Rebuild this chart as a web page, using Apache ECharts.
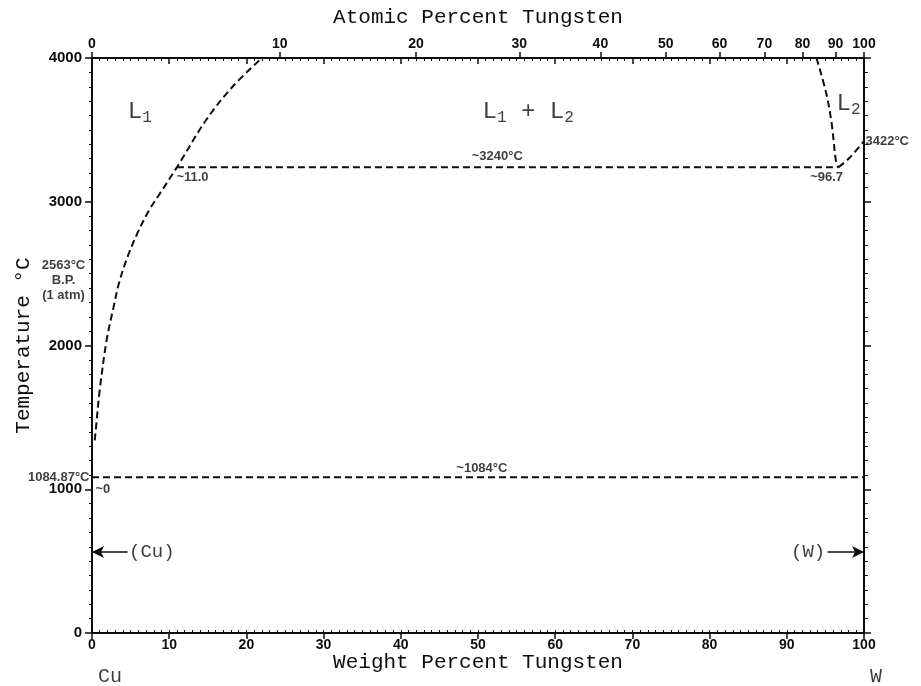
<!DOCTYPE html>
<html>
<head>
<meta charset="utf-8">
<script src="https://cdn.jsdelivr.net/npm/echarts@6/dist/echarts.min.js"></script>
<style>
  html, body { margin: 0; padding: 0; background: #fff; }
  #chart { width: 921px; height: 686px; }
</style>
</head>
<body>
<div id="chart"></div>
<script>
// Cu–W binary phase diagram (weight % tungsten vs temperature)
const MASS_W = 183.84;
const MASS_CU = 63.546;

const atomicPercentTicks = [0, 10, 20, 30, 40, 50, 60, 70, 80, 90, 100];

// Boundary of the Cu-rich liquid L1 (wt.% W, °C)
const l1Boundary = [[0.35, 1340], [0.5, 1420], [1.0, 1690], [1.9, 2038], [2.8, 2268], [3.5, 2435],
  [4.6, 2616], [5.9, 2783], [7.4, 2942], [8.5, 3033], [11.0, 3240], [14.8, 3570], [18.2, 3800], [22.0, 4000]];
// Boundary of the W-rich liquid L2
const l2Boundary = [[93.85, 4000], [95.1, 3756], [95.8, 3548], [96.4, 3270], [96.7, 3240]];
// W liquidus up to the melting point of W
const wLiquidus = [[96.7, 3240], [98.1, 3304], [100, 3422]];
// Monotectic and eutectic-type horizontals
const monotectic = [[11.0, 3240], [96.7, 3240]];
const cuMeltLine = [[0, 1084], [100, 1084]];
// Terminal solid solution arrows
const cuArrow = [[4.6, 563], [0, 563]];
const wArrow = [[95.3, 563], [100, 563]];

// Text annotations (wt.% W, °C)
const notes = [
  { key: 'L1', text: '{a|L}{s|1}', wt: 6.2, temp: 3624 },
  { key: 'L1L2', text: '{a|L}{s|1}{a| + L}{s|2}', wt: 56.5, temp: 3624 },
  { key: 'L2', text: '{a|L}{s|2}', wt: 98.0, temp: 3680 },
  { key: 'mono', text: '~3240°C', wt: 52.5, temp: 3240 },
  { key: 'c11', text: '~11.0', wt: 11.0, temp: 3240 },
  { key: 'c967', text: '~96.7', wt: 96.7, temp: 3240 },
  { key: 'tmW', text: '3422°C', wt: 100, temp: 3422 },
  { key: 'bp', text: '2563°C\nB.P.\n(1 atm)', wt: 0, temp: 2563 },
  { key: 'tmCu', text: '1084.87°C', wt: 0, temp: 1084.87 },
  { key: 'zero', text: '~0', wt: 0, temp: 1000 },
  { key: 'cuMelt', text: '~1084°C', wt: 50.5, temp: 1084 },
  { key: 'cuSS', text: '(Cu)', wt: 4.6, temp: 563 },
  { key: 'wSS', text: '(W)', wt: 95.3, temp: 563 },
  { key: 'cu', text: 'Cu', wt: 0, temp: 0 },
  { key: 'w', text: 'W', wt: 100, temp: 0 }
];

const MONO = '"Liberation Mono", "DejaVu Sans Mono", monospace';
const SANS = '"Liberation Sans", Arial, sans-serif';
const INK = '#0d0d0d';

const richLetters = {
  a: { fontFamily: MONO, fontSize: 24, fontWeight: 'normal', color: INK },
  s: { fontFamily: MONO, fontSize: 16, fontWeight: 'normal', color: INK, padding: [12, 0, 0, 0] }
};

const noteStyle = {
  L1: { position: 'inside', rich: richLetters },
  L1L2: { position: 'inside', rich: richLetters },
  L2: { position: 'inside', rich: richLetters },
  mono: { position: 'top', distance: 4 },
  c11: { position: 'right', offset: [-6, 10] },
  c967: { position: 'left', offset: [10, 10] },
  tmW: { position: 'right', distance: 1 },
  bp: { position: 'left', distance: 4, align: 'center', offset: [-24, 16], lineHeight: 15 },
  tmCu: { position: 'left', distance: 2 },
  zero: { position: 'right', distance: 3 },
  cuMelt: { position: 'top', distance: 2 },
  cuSS: { position: 'right', distance: 1, fontFamily: MONO, fontSize: 19, fontWeight: 'normal' },
  wSS: { position: 'left', distance: 2, fontFamily: MONO, fontSize: 19, fontWeight: 'normal' },
  cu: { position: 'bottom', distance: 33, offset: [18, 0], fontFamily: MONO, fontSize: 20, fontWeight: 'normal' },
  w: { position: 'bottom', distance: 33, offset: [12, 0], fontFamily: MONO, fontSize: 20, fontWeight: 'normal' }
};

const wtFromAt = a => 100 * a * MASS_W / (a * MASS_W + (100 - a) * MASS_CU);
const atomicTickPos = atomicPercentTicks.map(wtFromAt);

const dashed = { color: INK, width: 2, type: [7, 4] };

function curve(data, smooth) {
  return {
    type: 'line', data, smooth: smooth ? 0.35 : false, showSymbol: false, silent: true,
    lineStyle: dashed, clip: false, z: 3
  };
}

function arrow(data) {
  return {
    type: 'line', data: [], silent: true,
    markLine: {
      silent: true, symbol: ['none', 'arrow'], symbolSize: [9, 12],
      lineStyle: { color: INK, width: 1.6, type: 'solid' }, label: { show: false },
      data: [[{ coord: data[0] }, { coord: data[1] }]]
    }
  };
}

const baseAxis = { min: 0, max: 100, gridIndex: 0 };
const tickFont = { fontFamily: SANS, fontSize: 14, color: INK, fontWeight: 'bold' };
const nameFont = { fontFamily: MONO, fontSize: 21, color: INK };

const option = {
  backgroundColor: '#fff',
  animation: false,
  grid: { left: 92, right: 57, top: 58, bottom: 53, outerBoundsMode: 'none' },
  xAxis: [
    { // bottom weight-% axis with labels
      ...baseAxis, type: 'value', position: 'bottom', interval: 10,
      name: 'Weight Percent Tungsten', nameLocation: 'middle', nameGap: 19, nameMoveOverlap: false,
      nameTextStyle: nameFont,
      axisLine: { onZero: false, lineStyle: { color: INK, width: 2 } },
      axisTick: { length: 6, lineStyle: { color: INK, width: 1.5 } },
      axisLabel: { ...tickFont, margin: 5, formatter: v => String(v) },
      splitLine: { show: false }
    },
    { // bottom fine ticks, inside
      ...baseAxis, type: 'value', position: 'bottom', interval: 1,
      axisLine: { show: false, onZero: false },
      axisTick: { inside: true, length: 3, lineStyle: { color: INK, width: 1 } },
      axisLabel: { show: false }, splitLine: { show: false }
    },
    { // top weight-% ticks, inside
      ...baseAxis, type: 'value', position: 'top', interval: 10,
      axisLine: { onZero: false, lineStyle: { color: INK, width: 2 } },
      axisTick: { inside: true, length: 6, lineStyle: { color: INK, width: 1.5 } },
      minorTick: { show: true, splitNumber: 10, length: 3, lineStyle: { color: INK, width: 1 } },
      axisLabel: { show: false }, splitLine: { show: false }
    },
    { // top atomic-% scale
      ...baseAxis, type: 'value', position: 'top',
      name: 'Atomic Percent Tungsten', nameLocation: 'middle', nameGap: 30,
      nameTextStyle: nameFont,
      axisLine: { show: false, onZero: false },
      axisTick: { length: 6, customValues: atomicTickPos, lineStyle: { color: INK, width: 1.5 } },
      axisLabel: {
        ...tickFont, margin: 7,
        customValues: atomicTickPos,
        formatter: v => {
          const i = atomicTickPos.findIndex(p => Math.abs(p - v) < 1e-6);
          return i >= 0 ? String(atomicPercentTicks[i]) : '';
        }
      },
      splitLine: { show: false }
    }
  ],
  yAxis: [
    { // left temperature axis
      type: 'value', min: 0, max: 4000, interval: 1000, position: 'left', gridIndex: 0,
      name: 'Temperature °C', nameLocation: 'middle', nameGap: 58, nameRotate: 90,
      nameTextStyle: nameFont,
      axisLine: { show: true, onZero: false, lineStyle: { color: INK, width: 2 } },
      axisTick: { show: true, length: 7, lineStyle: { color: INK, width: 1.5 } },
      minorTick: { show: true, splitNumber: 10, length: 3, lineStyle: { color: INK, width: 1 } },
      axisLabel: { ...tickFont, fontSize: 15, margin: 10, formatter: v => String(v) },
      splitLine: { show: false }
    },
    { // right temperature ticks
      type: 'value', min: 0, max: 4000, interval: 1000, position: 'right', gridIndex: 0,
      axisLine: { show: true, onZero: false, lineStyle: { color: INK, width: 2 } },
      axisTick: { show: true, length: 7, lineStyle: { color: INK, width: 1.5 } },
      minorTick: { show: true, splitNumber: 10, length: 4, lineStyle: { color: INK, width: 1 } },
      axisLabel: { show: false }, splitLine: { show: false }
    }
  ],
  series: [
    curve(l1Boundary, true),
    curve(l2Boundary, true),
    curve(wLiquidus, true),
    curve(monotectic, false),
    curve(cuMeltLine, false),
    arrow(cuArrow),
    arrow(wArrow),
    {
      type: 'scatter', silent: true, symbolSize: 1, z: 5,
      itemStyle: { color: 'rgba(0,0,0,0)' },
      data: notes.map(n => ({
        value: [n.wt, n.temp],
        label: Object.assign({
          show: true, formatter: n.text, color: INK,
          fontFamily: SANS, fontSize: 13, fontWeight: 'bold'
        }, noteStyle[n.key])
      }))
    }
  ]
};

const chart = echarts.init(document.getElementById('chart'), null, { renderer: 'canvas' });
chart.setOption(option);
</script>
</body>
</html>
